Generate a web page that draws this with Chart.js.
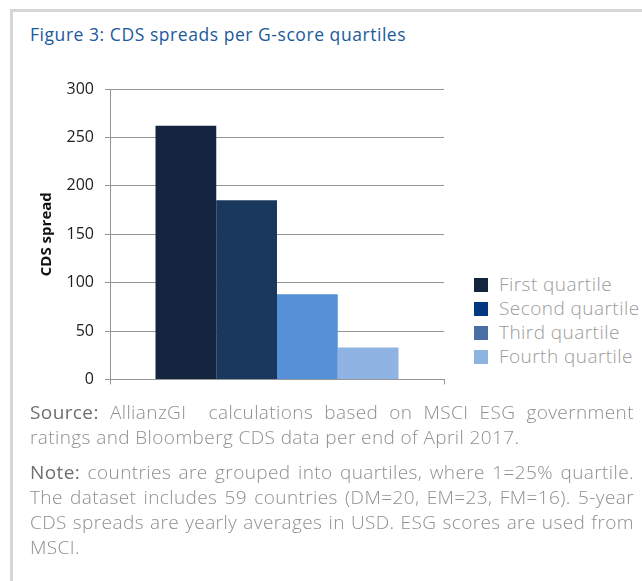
<!DOCTYPE html>
<html>
<head>
<meta charset="utf-8">
<script src="https://cdn.jsdelivr.net/npm/chart.js@4"></script>
<style>
  html, body { margin: 0; padding: 0; background: #fff; }
  body { width: 642px; height: 581px; position: relative; overflow: hidden; font-family: "Open Sans", sans-serif; }
  #frame { position: absolute; left: 10px; top: 9px; right: -10px; bottom: -10px;
           border-top: 3px solid #d6d6d6; border-left: 3px solid #d6d6d6; }
  #title { position: absolute; left: 30px; top: 22px; font-size: 17.5px; letter-spacing: 0.55px; color: #1a5a9c; white-space: nowrap; }
  #wrap { position: absolute; left: 13px; top: 60px; width: 440px; height: 340px; }
  #legend { position: absolute; left: 474px; top: 272px; }
  #legend div { height: 24px; line-height: 24px; white-space: nowrap; font-size: 19px; font-weight: 300;
                letter-spacing: 0.45px; color: #9b9b9b; }
  #legend span { display: inline-block; width: 14px; height: 14px; margin-right: 11px; vertical-align: -1px; }
  #notes { position: absolute; left: 30px; top: 400px; width: 604px; font-size: 19px; line-height: 25px;
           font-weight: 300; letter-spacing: 0.4px; color: #8f8f8f; }
  #notes p { margin: 0 0 10px 0; }
  #notes .j { display: block; white-space: nowrap; text-align: justify; text-align-last: justify; }
  #notes b { font-weight: 400; color: #6f6f6f; }
</style>
</head>
<body>
<div id="frame"></div>
<div id="title">Figure 3: CDS spreads per G-score quartiles</div>
<div id="wrap"><canvas id="grafico" width="440" height="340"></canvas></div>
<div id="legend"></div>
<div id="notes">
  <p><span class="j"><b>Source:</b> AllianzGI&nbsp; calculations based on MSCI ESG government</span>ratings and Bloomberg CDS data per end of April 2017.</p>
  <p><span class="j"><b>Note:</b> countries are grouped into quartiles, where 1=25% quartile.</span><span class="j">The dataset includes 59 countries (DM=20, EM=23, FM=16). 5-year</span><span class="j">CDS spreads are yearly averages in USD. ESG scores are used from</span>MSCI.</p>
</div>
<script>
const categorias = [''];
const quartis = ['First quartile', 'Second quartile', 'Third quartile', 'Fourth quartile'];
const spreads = [262, 185, 88, 33];
const coresBarras = ['#14263f', '#1a375e', '#5690d6', '#8fb4e3'];
const coresLegenda = ['#13243e', '#003882', '#4a6fa5', '#8db3e1'];
const yMin = 0, yMax = 300, yStep = 50;

const gridColor = '#959595';

function criarGrafico() {
    const datasets = quartis.map((nome, i) => ({
        label: nome,
        data: [spreads[i]],
        backgroundColor: coresBarras[i],
        borderWidth: 0
    }));

    new Chart(document.getElementById('grafico'), {
        type: 'bar',
        data: { labels: categorias, datasets: datasets },
        options: {
            responsive: false,
            animation: false,
            devicePixelRatio: 1,
            categoryPercentage: 0.7275,
            barPercentage: 1,
            layout: { padding: { top: 29, right: 9, bottom: 0, left: 0 } },
            plugins: { legend: { display: false }, tooltip: { enabled: false } },
            scales: {
                x: {
                    grid: { display: true, drawOnChartArea: false, drawTicks: true, tickLength: 5, color: gridColor, offset: true },
                    border: { display: true, color: gridColor },
                    ticks: { display: false },
                    afterFit(scale) { scale.height = 17; }
                },
                y: {
                    min: yMin, max: yMax,
                    ticks: { stepSize: yStep, padding: 11, color: '#1e1e1e', font: { family: 'Open Sans', size: 16 } },
                    grid: { color: gridColor, tickLength: 5 },
                    border: { display: true, color: gridColor },
                    title: { display: true, text: 'CDS spread', color: '#111', padding: { top: 25, bottom: 0 },
                             font: { family: 'Open Sans', size: 15, weight: 'bold' } },
                    afterFit(scale) { scale.width = 97; }
                }
            }
        }
    });

    // legenda em HTML, alinhada ao lado direito do gráfico
    const legenda = document.getElementById('legend');
    quartis.forEach((nome, i) => {
        const linha = document.createElement('div');
        const caixa = document.createElement('span');
        caixa.style.background = coresLegenda[i];
        linha.appendChild(caixa);
        linha.appendChild(document.createTextNode(nome));
        legenda.appendChild(linha);
    });
}

criarGrafico();
</script>
</body>
</html>
